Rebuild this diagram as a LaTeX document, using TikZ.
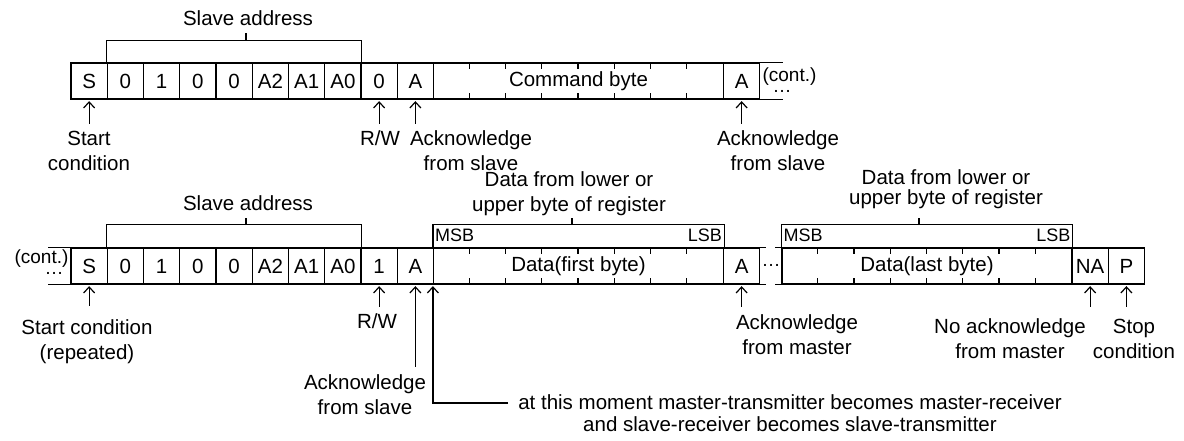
\documentclass[tikz,border=0pt]{standalone}
\usepackage{fontspec}
\setmainfont{Liberation Sans}
\usetikzlibrary{arrows.meta}
\begin{document}
\begin{tikzpicture}[x=1pt,y=-1pt,
  line width=1.2pt,
  cell/.style={draw, minimum width=36.25pt, minimum height=36pt, inner sep=0pt, font=\fontsize{20.5}{25}\selectfont},
  block/.style={draw, minimum width=290pt, minimum height=36pt, inner sep=0pt, font=\fontsize{20.5}{25}\selectfont},
  lab/.style={align=center, inner sep=0pt, font=\fontsize{20.5}{25}\selectfont},
  tight/.style={align=center, inner sep=0pt, font=\fontsize{20.5}{19.5}\selectfont},
  msb/.style={inner sep=0pt, font=\fontsize{18}{20}\selectfont},
  cont/.style={inner sep=0pt, align=left, anchor=north west, font=\fontsize{19}{10.5}\selectfont},
  arr/.style={-{Straight Barb[length=6pt,width=11pt]}, shorten >=1.5pt},
]
\useasboundingbox (0,0) rectangle (1184,441);

% ---------------- Row 1 ----------------
\foreach \t [count=\i from 0] in {S,0,1,0,0,A2,A1,A0,0,A}
  \node[cell] (p\i) at ({89.125+36.25*\i},81) {\t};
\node[block] (cmd) at (578.5,81) {Command byte};
\foreach \k in {1,...,7} {
  \draw ([xshift=\k*36.25pt]cmd.north west) -- ++(0,7);
  \draw ([xshift=\k*36.25pt]cmd.south west) -- ++(0,-7);
}
\node[cell] (pa) at (741.625,81) {A};
\draw (pa.north east) -- ++(23,0);
\draw (pa.south east) -- ++(23,0);
\node[cont] (c1) at (762,67.5) {(cont.)\\\hspace*{10pt}…};

% slave address bracket
\node[lab] (sa1) at (248,18) {Slave address};
\draw (p1.north west) -- ++(0,-22) -| (p7.north east);
\draw (246,41) -- (246,33);

% labels row 1
\node[lab] (l1) at (89,150.5) {Start\\condition};
\node[lab] (l2) at (380,138) {R/W};
\node[lab] (l3) at (471,150.5) {Acknowledge\\from slave};
\node[lab] (l4) at (778,150.5) {Acknowledge\\from slave};
\draw[arr] ([yshift=-24pt]p0.south) -- (p0.south);
\draw[arr] ([yshift=-24pt]p8.south) -- (p8.south);
\draw[arr] ([yshift=-24pt]p9.south) -- (p9.south);
\draw[arr] ([yshift=-24pt]pa.south) -- (pa.south);

% ---------------- Row 2 ----------------
\foreach \t [count=\i from 0] in {S,0,1,0,0,A2,A1,A0,1,A}
  \node[cell] (q\i) at ({89.125+36.25*\i},266) {\t};
\node[block] (df) at (578.5,266) {Data(first byte)};
\node[cell] (qa) at (741.625,266) {A};
\node[block] (dl) at (927,266) {Data(last byte)};
\foreach \b in {df,dl} {
  \foreach \k in {1,...,7} {
    \draw ([xshift=\k*36.25pt]\b.north west) -- ++(0,7);
    \draw ([xshift=\k*36.25pt]\b.south west) -- ++(0,-7);
  }
}
\node[cell] (na) at (1090.125,266) {NA};
\node[cell] (pp) at (1126.375,266) {P};

% cont. bracket left
\draw (q0.north west) -- ++(-22,0);
\draw (q0.south west) -- ++(-22,0);
\node[cont] (c2) at (14,249.5) {(cont.)\\\hspace*{30pt}…};

% middle bracket
\draw (qa.north east) -- ++(6,0);
\draw (qa.south east) -- ++(6,0);
\draw (dl.north west) -- ++(-6,0);
\draw (dl.south west) -- ++(-6,0);
\node[inner sep=0pt, font=\fontsize{19}{22}\selectfont] (c3d) at (771,265) {…};

% slave address bracket
\node[lab] (sa2) at (248,203) {Slave address};
\draw (q1.north west) -- ++(0,-23) -| (q7.north east);
\draw (246,225) -- (246,218);

% data brackets
\draw (df.north west) -- ++(0,-23) -| (df.north east);
\draw (572,225) -- (572,218);
\node[lab] (dfl) at (569,194) {Data from lower or\\upper byte of register};
\node[msb, anchor=west] (m1) at (434.5,235.5) {MSB};
\node[msb, anchor=east] (s1) at (722.5,235.5) {LSB};

\draw (dl.north west) -- ++(0,-23) -| (dl.north east);
\draw (919,225) -- (919,218);
\node[tight] (dll) at (946,189) {Data from lower or\\upper byte of register};
\node[msb, anchor=west] (m2) at (783,235.5) {MSB};
\node[msb, anchor=east] (s2) at (1071,235.5) {LSB};

% labels row 2
\node[lab] (k1) at (87,342) {Start condition\\(repeated)};
\node[lab] (k2) at (377,321) {R/W};
\node[lab] (k3) at (365,394.5) {Acknowledge\\from slave};
\node[lab] (k4) at (797,335) {Acknowledge\\from master};
\node[lab] (k5) at (1010,339) {No acknowledge\\from master};
\node[lab] (k6) at (1134,339) {Stop\\condition};
\node[align=center, inner sep=0pt, font=\fontsize{20.5}{22}\selectfont] (k7) at (790,413)
  {at this moment master-transmitter becomes master-receiver\\and slave-receiver becomes slave-transmitter};

\draw[arr] ([yshift=-21pt]q0.south) -- (q0.south);
\draw[arr] ([yshift=-22pt]q8.south) -- (q8.south);
\draw[arr] ([yshift=-82pt]q9.south) -- (q9.south);
\coordinate (mline) at (508,403);
\draw[arr] (mline) -- (df.south west |- mline) -- (df.south west);
\draw[arr] ([yshift=-22pt]qa.south) -- (qa.south);
\draw[arr] ([yshift=-22pt]na.south) -- (na.south);
\draw[arr] ([yshift=-22pt]pp.south) -- (pp.south);

\end{tikzpicture}
\end{document}
